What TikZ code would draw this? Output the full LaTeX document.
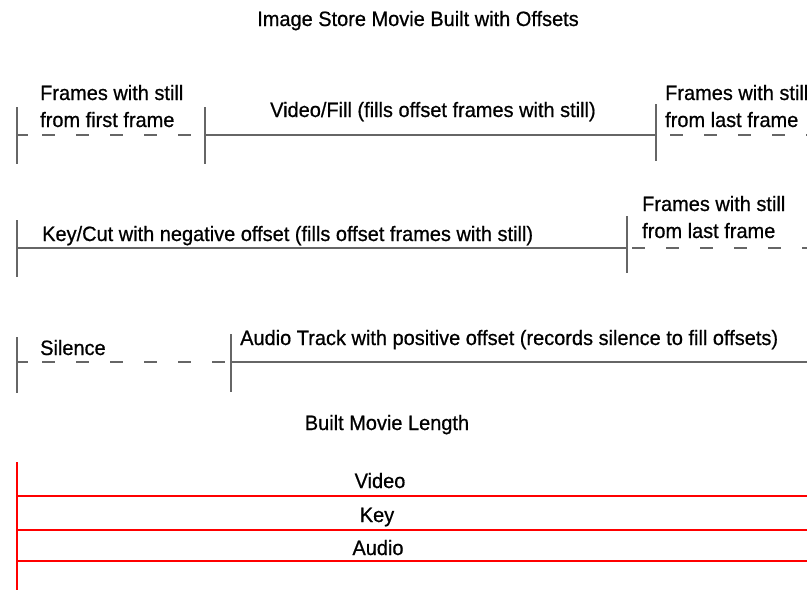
\documentclass[tikz,border=0pt]{standalone}
\usepackage{fontspec}
\setmainfont{Liberation Sans}
\newfontfamily\lblfont[FakeBold=0.7,FakeStretch=0.96]{Liberation Sans}
\begin{document}
\begin{tikzpicture}[x=1pt,y=-1pt,
  track/.style={draw=black!60, line width=1.6pt},
  tick/.style={draw=black!60, line width=1.6pt},
  gap/.style={draw=black!60, line width=1.6pt, dash pattern=on 13pt off 21pt},
  built/.style={draw=red, line width=2.2pt},
  lbl/.style={inner sep=0pt, font=\lblfont\fontsize{20.8}{22}\selectfont, anchor=base west},
  clbl/.style={inner sep=0pt, font=\lblfont\fontsize{20.8}{22}\selectfont, anchor=base}]
\useasboundingbox (0,0) rectangle (807,590);
\clip (0,0) rectangle (807,590);
% title
\node[clbl] (title) at (418,26) {Image Store Movie Built with Offsets};
% Row 1
\coordinate (r1a) at (17,135);
\coordinate (r1b) at (205,135);
\coordinate (r1c) at (656,135);
\coordinate (r1e) at (807,135);
\coordinate (r1s) at (28,135);
\coordinate (r1d) at (42,135);
\draw[tick] (17,107) -- (17,164);
\draw[tick] (205,107) -- (205,164);
\draw[tick] (656,104) -- (656,161);
\draw[track] (r1a) -- (r1s);
\draw[gap] (r1d) -- (r1b);
\draw[track] (r1b) -- (r1c);
\draw[gap] ([xshift=14pt]r1c) -- (r1e);
\node[lbl] (f1a) at (40,100) {Frames with still};
\node[lbl] (f1b) at (40,127) {from first frame};
\node[lbl] (vf) at (270,117) {Video/Fill (fills offset frames with still)};
\node[lbl] (l1a) at (665,100) {Frames with still};
\node[lbl] (l1b) at (665,127) {from last frame};
% Row 2
\coordinate (r2a) at (17,248);
\coordinate (r2b) at (627,248);
\coordinate (r2e) at (807,248);
\draw[tick] (17,220) -- (17,277);
\draw[tick] (627,216) -- (627,273);
\draw[track] (r2a) -- (r2b);
\draw[gap] ([xshift=5pt]r2b) -- (r2e);
\node[lbl] (kc) at (42,241) {Key/Cut with negative offset (fills offset frames with still)};
\node[lbl] (l2a) at (642,211) {Frames with still};
\node[lbl] (l2b) at (642,238) {from last frame};
% Row 3
\coordinate (r3a) at (17,362);
\coordinate (r3s) at (28,362);
\coordinate (r3d) at (42,362);
\coordinate (r3b) at (231,362);
\coordinate (r3e) at (807,362);
\draw[tick] (17,337) -- (17,393);
\draw[tick] (231,334) -- (231,392);
\draw[track] (r3a) -- (r3s);
\draw[gap] (r3d) -- (r3b);
\draw[track] (r3b) -- (r3e);
\node[lbl] (sil) at (40,355) {Silence};
\node[lbl] (aud) at (240,345) {Audio Track with positive offset (records silence to fill offsets)};
% Built
\node[clbl] (bml) at (387,430) {Built Movie Length};
\coordinate (b0) at (17,462);
\coordinate (b4) at (17,590);
\coordinate (b1) at (17,496);
\coordinate (b2) at (17,530);
\coordinate (b3) at (17,561);
\draw[built] (b0) -- (b4);
\draw[built] (b1) -- (807,496);
\draw[built] (b2) -- (807,530);
\draw[built] (b3) -- (807,561);
\node[clbl] (bv) at (380,488) {Video};
\node[clbl] (bk) at (377,522) {Key};
\node[clbl] (ba) at (378,555) {Audio};
\end{tikzpicture}
\end{document}
